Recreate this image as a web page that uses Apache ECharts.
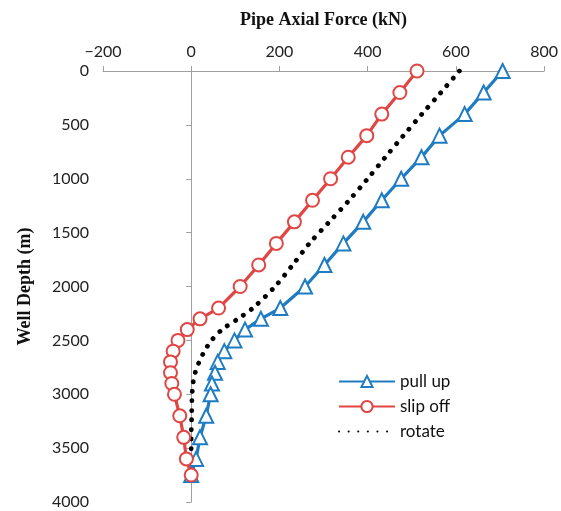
<!DOCTYPE html>
<html>
<head>
<meta charset="utf-8">
<script src="https://cdn.jsdelivr.net/npm/echarts@6/dist/echarts.min.js"></script>
<style>
  html, body { margin: 0; padding: 0; background: #fff; }
  #myChart { width: 561px; height: 511px; }
</style>
</head>
<body>
<div id="myChart"></div>
<script>
// well depth (m) for every point
const depths = [0, 200, 400, 600, 800, 1000, 1200, 1400, 1600, 1800, 2000, 2200, 2300, 2400, 2500, 2600, 2700, 2800, 2900, 3000, 3200, 3400, 3600, 3750]
// pipe axial force (kN)
const pullUp = [706, 663, 620, 563, 522, 476, 432, 390, 345, 302, 258, 202, 158, 122, 98, 75, 60, 54, 47, 44, 34, 20, 11, 0]
const slipOff = [512, 473, 432, 398, 356, 316, 275, 234, 193, 153, 111, 62, 20, -9, -30, -41, -47, -47, -44, -38, -26, -17, -11, 0]
const rotate = [608, 566, 523, 481, 440, 400, 358, 313, 268, 230, 190, 140, 106, 70, 46, 30, 18, 9, 4, 2, 1, 0, 0, 0]
const forceTicks = [-200, 0, 200, 400, 600, 800]
const depthTicks = [0, 500, 1000, 1500, 2000, 2500, 3000, 3500, 4000]

const pairs = (vals) => vals.map((v, i) => [v, depths[i]])

const chart = echarts.init(document.getElementById('myChart'))
const labelFont = { fontFamily: 'Lato, "Open Sans", sans-serif', fontSize: 16, color: '#222' }
const axisGrey = { lineStyle: { color: '#a0a0a0', width: 1 } }

const options = {
  animation: false,
  grid: { left: 103, right: 14, top: 71, bottom: 9 },
  xAxis: {
    type: 'value',
    position: 'top',
    min: forceTicks[0],
    max: forceTicks[forceTicks.length - 1],
    interval: 200,
    name: 'Pipe Axial Force (kN)',
    nameLocation: 'middle',
    nameGap: 42,
    nameTextStyle: { fontFamily: '"Liberation Serif", serif', fontWeight: 'bold', fontSize: 18, color: '#111' },
    axisLine: { show: true, ...axisGrey },
    axisTick: { show: true, length: 5, ...axisGrey },
    axisLabel: { ...labelFont, margin: 11, formatter: (v) => String(v).replace('-', '\u2212') },
    splitLine: { show: false }
  },
  yAxis: {
    type: 'value',
    inverse: true,
    min: depthTicks[0],
    max: depthTicks[depthTicks.length - 1],
    interval: 500,
    name: 'Well Depth (m)',
    nameLocation: 'middle',
    nameGap: 69,
    nameTextStyle: { fontFamily: '"Liberation Serif", serif', fontWeight: 'bold', fontSize: 18, color: '#111' },
    axisLine: { show: true, ...axisGrey },
    axisTick: { show: true, length: 5, ...axisGrey },
    axisLabel: { ...labelFont, margin: 14, formatter: (v) => String(v) },
    splitLine: { show: false }
  },
  legend: {
    orient: 'vertical',
    left: 333,
    top: 368,
    itemWidth: 56,
    itemHeight: 14,
    itemGap: 8,
    textStyle: { ...labelFont, fontSize: 17, color: '#111' },
    data: ['pull up', 'slip off', { name: 'rotate', itemStyle: { opacity: 0 } }]
  },
  series: [
    {
      name: 'pull up',
      type: 'line',
      data: pairs(pullUp),
      symbol: 'triangle',
      symbolSize: 14,
      itemStyle: { color: '#fff', borderColor: '#1f7cc2', borderWidth: 2 },
      lineStyle: { color: '#1f7cc2', width: 3.2 },
      z: 3
    },
    {
      name: 'slip off',
      type: 'line',
      data: pairs(slipOff),
      symbol: 'circle',
      symbolSize: 13,
      itemStyle: { color: '#fff', borderColor: '#e04644', borderWidth: 2 },
      lineStyle: { color: '#e04644', width: 3.2 },
      z: 4
    },
    {
      name: 'rotate',
      type: 'line',
      data: pairs(rotate),
      showSymbol: false,
      symbol: 'none',
      smooth: 0.3,
      itemStyle: { color: '#000' },
      lineStyle: { color: '#000', width: 4.8, type: [0.1, 9.5], cap: 'round' },
      z: 2
    }
  ]
}

chart.setOption(options)
</script>
</body>
</html>
